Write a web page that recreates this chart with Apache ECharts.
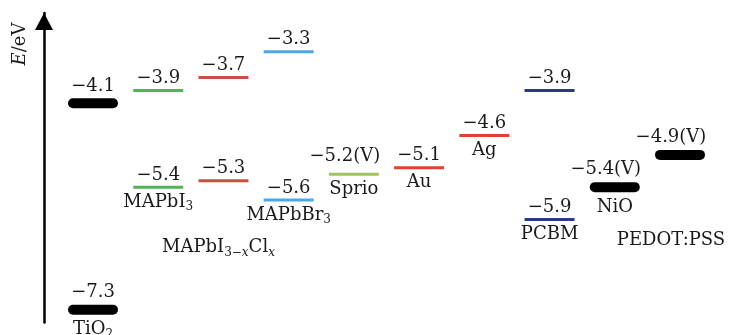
<!DOCTYPE html>
<html><head><meta charset="utf-8">
<script src="https://cdn.jsdelivr.net/npm/echarts@6/dist/echarts.min.js"></script>
<style>html,body{margin:0;padding:0;background:#fff}#c{width:734px;height:335px}</style>
</head><body><div id="c"></div>
<script>
// ---- data ----
const materials = ['TiO2', 'MAPbI3', 'MAPbI3-xClx', 'MAPbBr3', 'Sprio', 'Au', 'Ag', 'PCBM', 'NiO', 'PEDOT:PSS'];
const materialLabels = ['TiO{s|2}', 'MAPbI{s|3}', 'MAPbI{s|3−}{si|x}Cl{si|x}', 'MAPbBr{s|3}', 'Sprio', 'Au', 'Ag', 'PCBM', 'NiO', 'PEDOT:PSS'];
const upperLevels = [-4.1, -3.9, -3.7, -3.3, null, null, null, -3.9, null, null];
const lowerLevels = [-7.3, -5.4, -5.3, -5.6, -5.2, -5.1, -4.6, -5.9, -5.4, -4.9];
const lowerSuffix = ['', '', '', '', '(V)', '', '', '', '(V)', '(V)'];

// ---- styles ----
const COLORS = ['#000000', '#55b255', '#c8503f', '#4ba8e0', '#9ec45c', '#e4412d', '#e4412d', '#2c3a85', '#000000', '#000000'];
const THICK = [true, false, false, false, false, false, false, false, true, true];
const NAME_SHIFT = { 2: [-5, 67], 9: [-9, 85] };
const FONT = 'DejaVu Serif';
const TXT = '#1a1a1a';
const RICH = {
  s: { fontSize: 12, fontFamily: FONT, verticalAlign: 'bottom', lineHeight: 12 },
  si: { fontSize: 12, fontFamily: FONT, fontStyle: 'italic', verticalAlign: 'bottom', lineHeight: 12 }
};

function fmt(v) { return '−' + Math.abs(v).toFixed(1); }

function makeRender(kind) {
  return function (params, api) {
    const i = api.value(0), v = api.value(1);
    const p = api.coord([i, v]);
    const thick = THICK[i];
    const h = thick ? 10 : 3;
    const w = 50;
    const children = [{
      type: 'rect',
      shape: { x: p[0] - w / 2, y: p[1] - h / 2, width: w, height: h, r: thick ? h / 2 : 0 },
      style: { fill: COLORS[i] }
    }];
    const suffix = kind === 'lower' ? lowerSuffix[i] : '';
    const up = suffix ? 18 : (thick ? 17 : 12);
    children.push({
      type: 'text', x: p[0] + (suffix ? -9 : 0), y: p[1] - up,
      style: { text: fmt(v) + suffix, fontSize: 18, fontFamily: FONT, fill: TXT, align: 'center', verticalAlign: 'middle' }
    });
    if (kind === 'lower') {
      const sh = NAME_SHIFT[i] || [0, thick ? 20 : 15];
      children.push({
        type: 'text', x: p[0] + sh[0], y: p[1] + sh[1],
        style: { text: materialLabels[i], rich: RICH, fontSize: 18, fontFamily: FONT, lineHeight: 22, fill: TXT, align: 'center', verticalAlign: 'middle' }
      });
    }
    return { type: 'group', children: children };
  };
}

const upperData = [], lowerData = [];
materials.forEach(function (m, i) {
  if (upperLevels[i] != null) upperData.push([i, upperLevels[i]]);
  if (lowerLevels[i] != null) lowerData.push([i, lowerLevels[i]]);
});

const chart = echarts.init(document.getElementById('c'));
chart.setOption({
  animation: false,
  grid: { left: 60.4, right: 21.4, top: 13, bottom: 12.4 },
  xAxis: { type: 'category', data: materials, show: false },
  yAxis: {
    type: 'value', min: -7.5, max: -2.7, offset: 16.4,
    axisLine: { show: true, lineStyle: { color: '#000', width: 2.5 }, symbol: ['none', 'triangle'], symbolSize: [18, 17], symbolOffset: [0, -8.5] },
    axisTick: { show: false }, axisLabel: { show: false }, splitLine: { show: false }
  },
  graphic: [{
    type: 'text', x: 20, y: 44, rotation: Math.PI / 2,
    style: { text: '{i|E}/eV', rich: { i: { fontStyle: 'italic', fontSize: 18, fontFamily: FONT } }, fontSize: 18, fontFamily: FONT, fill: TXT, align: 'center', verticalAlign: 'middle' }
  }],
  series: [
    { type: 'custom', name: 'upper', data: upperData, renderItem: makeRender('upper'), clip: false },
    { type: 'custom', name: 'lower', data: lowerData, renderItem: makeRender('lower'), clip: false }
  ]
});
</script>
</body></html>
